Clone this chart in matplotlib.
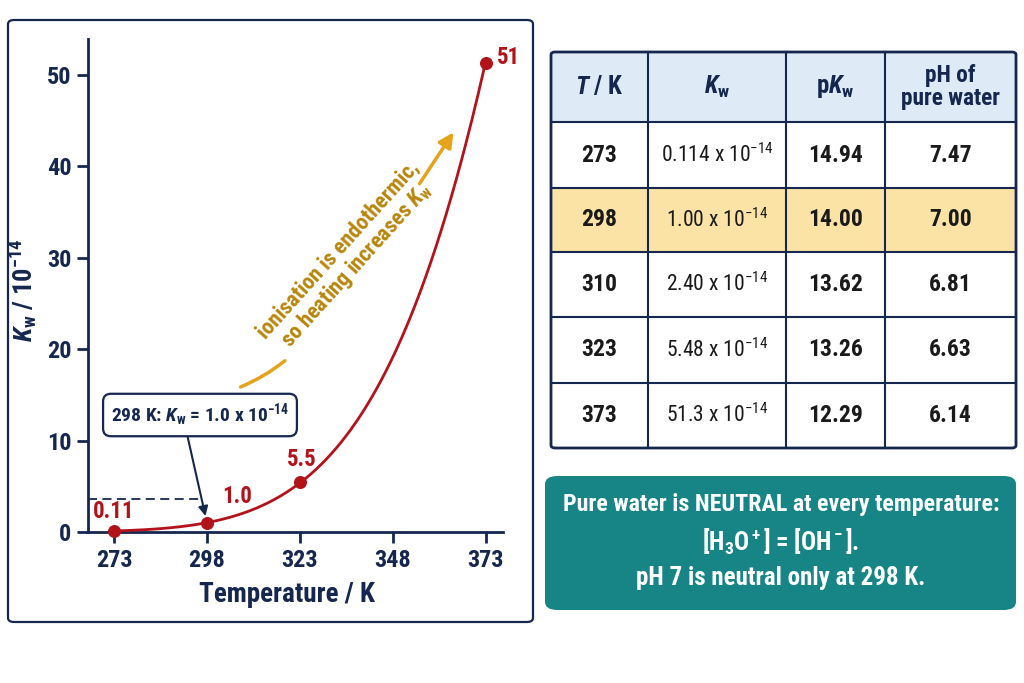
import numpy as np
import matplotlib
matplotlib.use("Agg")
import matplotlib.pyplot as plt
from matplotlib import font_manager
from matplotlib.patches import FancyBboxPatch, FancyArrowPatch, Rectangle

# ---------------- data ----------------
T_table = [273, 298, 310, 323, 373]
Kw_vals = [0.114, 1.00, 2.40, 5.48, 51.3]
Kw_str = ["0.114", "1.00", "2.40", "5.48", "51.3"]
pKw_str = ["14.94", "14.00", "13.62", "13.26", "12.29"]
pH_str = ["7.47", "7.00", "6.81", "6.63", "6.14"]
marked_T = [273, 298, 323, 373]
marked_K = [0.114, 1.00, 5.48, 51.3]
marked_lbl = ["0.11", "1.0", "5.5", "51"]
x_ticks = [273, 298, 323, 348, 373]
y_ticks = [0, 10, 20, 30, 40, 50]

# ---------------- fonts ----------------
avail = {f.name for f in font_manager.fontManager.ttflist}
fam = next((f for f in ["Liberation Sans Narrow", "Roboto Condensed", "Open Sans Condensed",
                        "Roboto", "Liberation Sans"] if f in avail), "DejaVu Sans")
plt.rcParams["font.family"] = [fam, "DejaVu Sans"]
plt.rcParams["mathtext.fontset"] = "custom"
plt.rcParams["mathtext.rm"] = f"{fam}:bold"
plt.rcParams["mathtext.bf"] = f"{fam}:bold"
plt.rcParams["mathtext.it"] = f"{fam}:italic:bold"

NAVY = "#16274f"
RED = "#b3121b"
GOLD = "#b8860b"
ORANGE = "#e5a21a"
TEAL = "#178585"

W, H = 1024, 683
fig = plt.figure(figsize=(W / 100, H / 100), dpi=100)


def fx(px):
    return px / W


def fy(py):
    return 1 - py / H


# left panel frame
frame = FancyBboxPatch((fx(8), fy(622)), fx(525), (602) / H,
                       boxstyle="round,pad=0,rounding_size=0.006",
                       transform=fig.transFigure, fc="none", ec=NAVY, lw=1.6, zorder=0)
fig.patches.append(frame)

# ---------------- chart ----------------
ax = fig.add_axes([fx(88), fy(532), fx(503 - 88), (532 - 39) / H])
ax.set_zorder(3)
ax.set_facecolor("none")
ax.set_xlim(266.0, 377.6)
ax.set_ylim(0, 53.9)
for s in ["top", "right"]:
    ax.spines[s].set_visible(False)
for s in ["left", "bottom"]:
    ax.spines[s].set_color(NAVY)
    ax.spines[s].set_linewidth(2)
ax.set_xticks(x_ticks)
ax.set_yticks(y_ticks)
ax.tick_params(colors=NAVY, width=2, length=8, labelsize=17.5, pad=4)
for lab in ax.get_xticklabels() + ax.get_yticklabels():
    lab.set_fontweight("bold")
ax.set_xlabel("Temperature / K", fontsize=19.5, fontweight="bold", color=NAVY)
ax.xaxis.set_label_coords((287 - 88) / 415, (532 - 581) / 493)
ax.set_ylabel(r"$\mathit{K}_{\mathregular{w}}$ / 10$^{\mathregular{-14}}$", fontsize=19,
              fontweight="bold", color=NAVY)
ax.yaxis.set_label_coords((39 - 88) / 415, (532 - 290) / 493)

# smooth curve from fit of ln K vs 1/T
invT = 1.0 / np.array(T_table, float)
coef = np.polyfit(invT, np.log(Kw_vals), 2)
Tg = np.linspace(T_table[0], T_table[-1], 300)
Kg = np.exp(np.polyval(coef, 1.0 / Tg))
ax.plot(Tg, Kg, color=RED, lw=2, clip_on=False, zorder=3)
ax.scatter(marked_T, marked_K, s=70, color=RED, zorder=4, clip_on=False)

offs = [(0, 19), (15, 26), (2, 22), (11, 5)]
has = ["center", "left", "center", "left"]
for t, k, l, o, ha in zip(marked_T, marked_K, marked_lbl, offs, has):
    ax.annotate(l, (t, k), xytext=o, textcoords="offset pixels", ha=ha, va="center",
                fontsize=16.5, fontweight="bold", color=RED, annotation_clip=False)

# dashed guide to 298 K point
ax.plot([ax.get_xlim()[0], 296.5], [3.6, 3.6], ls=(0, (5, 3)), color=NAVY, lw=1.3)

# callout box
ax.annotate(r"298 K: $\mathit{K}_{\mathregular{w}}$ = 1.0 x 10$^{\mathregular{-14}}$", xy=(298, 1.0),
            xycoords="data", xytext=(fx(200), fy(415)), textcoords="figure fraction",
            ha="center", va="center", fontsize=14, fontweight="bold", color=NAVY,
            bbox=dict(boxstyle="round,pad=0.4,rounding_size=0.4", fc="white", ec=NAVY, lw=1.6),
            arrowprops=dict(arrowstyle="-|>", color=NAVY, lw=1.5, mutation_scale=14,
                            shrinkA=0, shrinkB=5, relpos=(0.42, 0.0)),
            annotation_clip=False)

# orange curved arrow and rotated text
fig.patches.append(FancyArrowPatch((fx(238), fy(388)), (fx(287), fy(359)),
                                   transform=fig.transFigure, arrowstyle="-",
                                   connectionstyle="arc3,rad=0.08", color=ORANGE, lw=2.5))
fig.patches.append(FancyArrowPatch((fx(418), fy(186)), (fx(455), fy(130)),
                                   transform=fig.transFigure, arrowstyle="-|>",
                                   mutation_scale=22, connectionstyle="arc3,rad=0.0",
                                   color=ORANGE, lw=2.5))
fig.text(fx(348), fy(258), "ionisation is endothermic,\nso heating increases $\\mathit{K}_{\\mathregular{w}}$",
         rotation=48, ha="center", va="center", fontsize=16, fontweight="bold",
         color=GOLD, linespacing=1.0, rotation_mode="anchor")

# ---------------- table ----------------
col_x = [551, 648, 786, 885, 1016]
row_y = [52, 122, 188, 252, 317, 383, 448]
headers = [r"$\mathit{T}$ / K", r"$\mathit{K}_{\mathregular{w}}$", r"p$\mathit{K}_{\mathregular{w}}$",
           "pH of\npure water"]

fig.patches.append(Rectangle((fx(col_x[0]), fy(row_y[1])), fx(col_x[-1] - col_x[0]),
                             (row_y[1] - row_y[0]) / H, transform=fig.transFigure,
                             fc="#dfeaf7", ec="none"))
hl = T_table.index(298) + 1
fig.patches.append(Rectangle((fx(col_x[0]), fy(row_y[hl + 1])), fx(col_x[-1] - col_x[0]),
                             (row_y[hl + 1] - row_y[hl]) / H, transform=fig.transFigure,
                             fc="#fbe3a6", ec="none"))
for x in col_x[1:-1]:
    fig.add_artist(plt.Line2D([fx(x), fx(x)], [fy(row_y[0]), fy(row_y[-1])],
                              transform=fig.transFigure, color=NAVY, lw=1.5))
for y in row_y[1:-1]:
    fig.add_artist(plt.Line2D([fx(col_x[0]), fx(col_x[-1])], [fy(y), fy(y)],
                              transform=fig.transFigure, color=NAVY, lw=1.5))
fig.patches.append(FancyBboxPatch((fx(col_x[0]), fy(row_y[-1])), fx(col_x[-1] - col_x[0]),
                                  (row_y[-1] - row_y[0]) / H,
                                  boxstyle="round,pad=0,rounding_size=0.004",
                                  transform=fig.transFigure, fc="none", ec=NAVY, lw=2))

cx = [(col_x[i] + col_x[i + 1]) / 2 for i in range(4)]
for i, h in enumerate(headers):
    fig.text(fx(cx[i]), fy((row_y[0] + row_y[1]) / 2), h, ha="center", va="center",
             fontsize=18 if i < 3 else 16.8, fontweight="bold", color=NAVY, linespacing=0.95)

for r in range(len(T_table)):
    yc = fy((row_y[r + 1] + row_y[r + 2]) / 2)
    fig.text(fx(cx[0]), yc, str(T_table[r]), ha="center", va="center", fontsize=17,
             fontweight="bold", color="#1a1a1a")
    fig.text(fx(cx[1]), yc, Kw_str[r] + r" x 10$^{\mathregular{-14}}$", ha="center", va="center",
             fontsize=15.5, color="#1a1a1a")
    fig.text(fx(cx[2]), yc, pKw_str[r], ha="center", va="center", fontsize=17,
             fontweight="bold", color="#1a1a1a")
    fig.text(fx(cx[3]), yc, pH_str[r], ha="center", va="center", fontsize=17,
             fontweight="bold", color="#1a1a1a")

# ---------------- teal note ----------------
fig.patches.append(FancyBboxPatch((fx(545), fy(610)), fx(1016 - 545), (610 - 476) / H,
                                  boxstyle="round,pad=0,rounding_size=0.012",
                                  transform=fig.transFigure, fc=TEAL, ec="none"))
fig.text(fx(781), fy(505), "Pure water is NEUTRAL at every temperature:", ha="center", va="center",
         fontsize=17.3, fontweight="bold", color="white")
fig.text(fx(781), fy(542), r"[H$\mathregular{_3}$O$\mathregular{^+}$] = [OH$\mathregular{^-}$].",
         ha="center", va="center", fontsize=18, fontweight="bold", color="white")
fig.text(fx(781), fy(578), "pH 7 is neutral only at 298 K.", ha="center", va="center",
         fontsize=18, fontweight="bold", color="white")

fig.savefig("out.png", dpi=100, facecolor="white")
